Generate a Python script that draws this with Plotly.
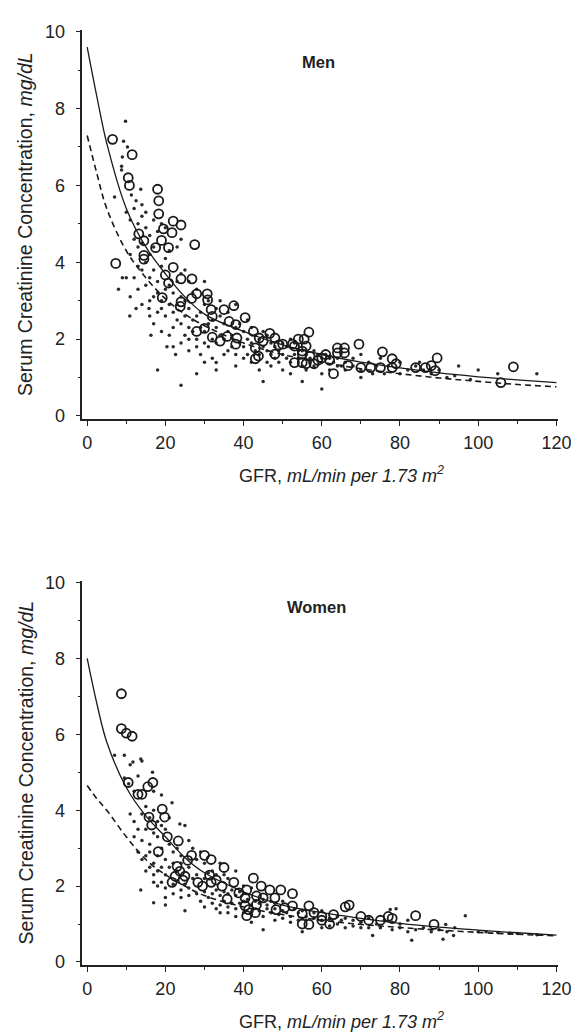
import plotly.graph_objects as go

# ---- fitted curves ----
curve_gfr = [0, 2.5, 5, 10, 15, 20, 25, 30, 40, 50, 60, 70, 80, 90, 100, 110, 120]
men_solid = [9.6, 8.3, 7.1, 5.4, 4.4, 3.7, 3.1, 2.65, 2.2, 1.85, 1.6, 1.4, 1.25, 1.12, 1.02, 0.94, 0.87]
men_dashed = [7.3, 6.3, 5.4, 4.3, 3.6, 3.05, 2.65, 2.35, 1.9, 1.6, 1.4, 1.23, 1.1, 0.99, 0.9, 0.82, 0.76]
women_solid = [8.0, 6.8, 5.8, 4.6, 3.85, 3.3, 2.75, 2.35, 1.85, 1.5, 1.3, 1.15, 1.02, 0.92, 0.84, 0.77, 0.71]
women_dashed = [4.65, 4.3, 4.0, 3.3, 2.7, 2.3, 2.0, 1.75, 1.45, 1.25, 1.1, 0.99, 0.91, 0.84, 0.78, 0.73, 0.69]

# ---- men: open circles ----
men_circ_gfr = [6.5, 11.5, 10.5, 10.8, 18, 18.3, 18.3, 22, 24, 19.5, 21.7, 13.2, 14.5, 19, 27.5, 17.5,
                20.8, 14.5, 14.5, 7.3, 22, 20, 24, 26.8, 20.8, 28, 30.7, 19.2, 26.7, 30.8, 24, 23.8,
                37.5, 31.7, 35, 32, 40.4, 36.3, 38, 30, 28, 42.5, 46.7, 56.7, 32, 35.8, 38.3, 44, 48,
                54, 55.5, 34, 38, 43, 49, 53, 56, 50, 52.5, 45, 48, 55, 43.8, 55, 43, 55, 58, 56, 53,
                60, 69.5, 75.5, 64, 65.8, 64, 65.8, 78, 89.5, 109, 86.5, 89, 84, 78, 75, 72.5, 70,
                66.7, 63, 105.8, 79, 88, 57, 59, 61, 62]
men_circ_scr = [7.2, 6.8, 6.2, 6.0, 5.9, 5.6, 5.26, 5.07, 4.97, 4.87, 4.77, 4.74, 4.56, 4.57, 4.46, 4.38,
                4.38, 4.18, 4.08, 3.97, 3.87, 3.67, 3.57, 3.57, 3.46, 3.18, 3.18, 3.08, 3.06, 3.02, 2.97, 2.85,
                2.87, 2.77, 2.77, 2.59, 2.56, 2.46, 2.38, 2.28, 2.2, 2.2, 2.15, 2.18, 2.05, 2.07, 2.03, 2.03, 2.03,
                2.0, 2.0, 1.95, 1.87, 1.77, 1.85, 1.82, 1.82, 1.87, 1.87, 1.95, 1.61, 1.61, 1.56, 1.39, 1.49, 1.69, 1.36, 1.36, 1.39,
                1.51, 1.87, 1.67, 1.77, 1.77, 1.64, 1.64, 1.49, 1.51, 1.28, 1.26, 1.18, 1.26, 1.26, 1.26, 1.26, 1.26,
                1.31, 1.1, 0.87, 1.36, 1.31, 1.55, 1.45, 1.6, 1.45]

# ---- men: small dots ----
men_dot_gfr = [9.8, 9.3, 10.3, 9, 8.8, 8.8, 7, 11.3, 13.7, 12.5, 14,
               10, 11, 12, 13, 14, 15, 12, 13, 14, 15, 16, 17, 11, 12, 9, 10, 13, 14, 15, 16, 17, 18, 19, 20,
               8, 11, 13, 15, 16, 17, 18, 19, 20, 21, 23, 24,
               10.9, 12.5, 15.8, 14, 16, 17, 18, 19, 20, 21, 22, 23, 24, 25, 26,
               16.3, 16, 17, 18, 19, 20, 21, 22, 23, 24, 25, 26, 27, 28, 30,
               20.4, 19, 21, 22, 23, 24, 25, 26, 27, 28, 29, 30, 31, 33, 34,
               22.6, 22, 24, 25, 26, 27, 28, 29, 30, 31, 32, 33, 34, 35, 36, 38,
               26, 28, 29, 30, 31, 32, 33, 34, 35, 36, 37, 38, 39, 40, 41, 42,
               30, 32, 33, 35, 36, 37, 38, 39, 40, 41, 42, 43, 44, 45, 46, 47,
               38, 40, 41, 42, 43, 44, 45, 46, 47, 48, 49, 50, 51, 52, 53, 54,
               44, 46, 47, 48, 49, 50, 51, 52, 53, 54, 55, 56, 57, 58, 59, 60,
               45, 50, 52, 55, 56, 57, 58, 60, 61, 62, 63, 64, 65, 66, 68, 70,
               55, 60, 62, 64, 66, 68, 70, 72, 74, 75, 77, 80, 82, 84, 86, 88,
               60, 70, 73, 76, 80, 85, 90, 92, 95, 100, 105, 115, 94, 98,
               18, 24, 28, 33]
men_dot_scr = [7.67, 7.15, 7.0, 6.74, 6.5, 6.4, 5.7, 5.75, 5.9, 5.6, 5.5,
               5.3, 5.1, 5.4, 5.0, 5.2, 5.3, 4.6, 4.4, 4.5, 4.9, 4.7, 5.1, 4.2, 3.6, 3.6, 3.6, 3.9, 3.8, 4.0, 4.2, 4.4, 4.8, 5.0, 4.9,
               3.3, 3.1, 3.3, 3.4, 3.6, 3.8, 3.5, 3.9, 4.1, 4.3, 4.4, 4.6,
               2.6, 2.8, 2.8, 2.9, 3.0, 3.1, 3.2, 3.0, 3.3, 3.4, 3.2, 3.5, 3.7, 3.8, 3.5,
               2.1, 2.6, 2.4, 2.7, 2.8, 2.6, 2.9, 2.7, 2.9, 3.1, 3.0, 2.8, 3.2, 3.3, 3.5,
               1.8, 2.2, 2.1, 2.3, 2.5, 2.4, 2.6, 2.3, 2.5, 2.6, 2.7, 2.9, 3.0, 2.8, 3.0,
               1.6, 1.8, 1.9, 2.1, 2.0, 2.2, 2.0, 2.3, 2.2, 2.4, 2.5, 2.3, 2.6, 2.4, 2.7, 2.9,
               1.7, 1.8, 1.6, 1.9, 1.8, 2.0, 1.9, 2.1, 2.0, 2.2, 2.1, 2.3, 2.4, 2.2, 2.5, 2.3,
               1.4, 1.5, 1.2, 1.6, 1.7, 1.8, 1.6, 1.9, 1.8, 2.0, 1.9, 2.1, 2.0, 2.2, 2.1, 1.9,
               1.3, 1.5, 1.6, 1.4, 1.7, 1.6, 1.8, 1.7, 1.6, 1.8, 1.7, 1.9, 1.8, 2.0, 1.9, 1.7,
               1.2, 1.4, 1.3, 1.5, 1.4, 1.6, 1.5, 1.4, 1.6, 1.5, 1.7, 1.6, 1.5, 1.7, 1.6, 1.5,
               0.9, 1.2, 1.1, 1.3, 1.2, 1.4, 1.3, 1.4, 1.6, 1.5, 1.4, 1.5, 1.3, 1.4, 1.5, 1.6,
               0.9, 1.1, 1.2, 1.3, 1.2, 1.3, 1.2, 1.4, 1.3, 1.5, 1.3, 1.4, 1.2, 1.3, 1.2, 1.1,
               0.7, 1.0, 1.1, 1.1, 1.1, 1.4, 1.2, 1.0, 1.3, 1.2, 1.1, 1.1, 1.05, 0.95,
               1.2, 0.8, 1.1, 1.39]

# ---- women: open circles ----
women_circ_gfr = [8.75, 8.75, 10, 11.5, 10.5, 15.5, 16.8, 13, 14, 19.2, 19.8, 15.8, 16.5, 20.5, 23.3,
                  18.2, 26.7, 30, 31.7, 25.7, 35, 23, 23.7, 22.5, 25, 31.3, 42.5, 33, 21.7, 24.5, 28.3,
                  29.5, 31.7, 34.5, 37.5, 44.5, 49.5, 46.7, 52.5, 40.8, 38.8, 35.8, 40.4, 43.3, 45, 48,
                  40.4, 41.3, 43.3, 48.3, 50.5, 52.5, 40.8, 43, 55, 56.7, 56.7,
                  67, 66, 60, 63, 70, 72, 75, 77, 78, 84, 88.7, 60, 62, 55, 58]
women_circ_scr = [7.07, 6.15, 6.03, 5.95, 4.73, 4.62, 4.73, 4.42, 4.42, 4.03, 3.82, 3.82, 3.61, 3.3, 3.19,
                  2.91, 2.81, 2.81, 2.7, 2.68, 2.49, 2.52, 2.39, 2.26, 2.26, 2.29, 2.21, 2.16, 2.1, 2.16, 2.1,
                  2.0, 2.1, 2.0, 2.1, 2.0, 1.9, 1.9, 1.8, 1.9, 1.82, 1.66, 1.69, 1.74, 1.69, 1.69,
                  1.48, 1.38, 1.51, 1.38, 1.43, 1.48, 1.22, 1.3, 1.27, 1.48, 0.99,
                  1.5, 1.45, 1.2, 1.25, 1.2, 1.1, 1.1, 1.2, 1.15, 1.22, 0.99, 1.1, 1.0, 1.0, 1.3]

# ---- women: small dots ----
women_dot_gfr = [7, 9.5, 11.7, 13.7, 11, 14, 16.7, 9.5, 10.6, 12, 13, 17, 19, 21.7,
                 11, 12, 13, 14, 15, 16, 17, 18, 12, 14, 15, 16, 17, 18, 19, 20, 21, 23.7, 25,
                 13, 14, 15, 16, 17, 18, 19, 20, 21, 22, 23, 24, 26, 27, 29,
                 15, 16, 17, 18, 19, 20, 21, 22, 23, 24, 26, 28, 30, 32, 34,
                 13.7, 17, 18, 19, 20, 22, 24, 25, 26, 27, 28, 30, 31, 33, 35, 36, 38,
                 17, 20, 20, 22, 24, 26, 28, 29, 30, 31, 32, 33, 34, 35, 36, 37, 38, 39, 40, 42,
                 25, 30, 32, 33, 34, 35, 36, 37, 38, 39, 40, 41, 42, 43, 44, 45, 46, 47, 48, 50,
                 34, 36, 38, 40, 42, 44, 45, 46, 47, 48, 49, 50, 51, 52, 53, 54, 55, 56, 58, 60,
                 42, 48, 50, 52, 54, 56, 58, 60, 62, 64, 65, 66, 68, 70, 72, 74, 76, 78, 80, 82,
                 45, 55, 60, 62, 64, 66, 68, 70, 73, 72, 75, 78, 80, 82, 84, 86, 88, 90, 92, 94,
                 96.7, 77.5, 79, 83, 91, 93.7, 91.7, 100, 105, 110, 115, 102, 108]
women_dot_scr = [5.45, 5.45, 5.27, 5.35, 5.2, 5.3, 5.0, 4.85, 4.7, 4.5, 4.9, 4.5, 4.4, 4.2,
                 3.9, 3.7, 3.5, 3.9, 4.1, 3.8, 4.0, 3.7, 3.3, 3.2, 3.5, 3.1, 3.4, 3.3, 3.6, 3.5, 3.8, 3.64, 3.6,
                 2.9, 2.7, 2.8, 2.9, 2.6, 2.8, 3.0, 2.7, 3.1, 2.9, 3.0, 2.8, 3.2, 3.0, 2.9,
                 2.4, 2.5, 2.3, 2.4, 2.5, 2.3, 2.5, 2.6, 2.4, 2.6, 2.5, 2.7, 2.6, 2.4, 2.6,
                 1.9, 2.1, 2.0, 2.1, 1.95, 2.05, 1.9, 2.05, 1.95, 2.2, 2.3, 2.2, 2.35, 2.3, 2.3, 2.2, 2.4,
                 1.56, 1.5, 1.7, 1.8, 1.7, 1.75, 1.8, 1.6, 1.85, 1.7, 1.8, 1.9, 1.75, 1.85, 1.8, 1.9, 1.75, 1.85, 2.0, 1.95,
                 1.35, 1.45, 1.55, 1.4, 1.5, 1.6, 1.45, 1.55, 1.4, 1.55, 1.6, 1.65, 1.5, 1.6, 1.55, 1.65, 1.5, 1.6, 1.55, 1.6,
                 1.3, 1.3, 1.2, 1.3, 1.25, 1.35, 1.2, 1.4, 1.3, 1.4, 1.25, 1.35, 1.3, 1.2, 1.4, 1.3, 1.35, 1.2, 1.3, 1.35,
                 1.05, 1.1, 1.15, 1.05, 1.1, 1.1, 1.15, 1.1, 1.15, 1.2, 1.1, 1.15, 1.1, 1.05, 1.15, 1.0, 1.1, 1.05, 1.0, 1.1,
                 0.85, 0.8, 0.9, 0.95, 1.0, 0.9, 0.95, 0.9, 0.7, 0.9, 0.9, 0.85, 0.9, 0.8, 0.85, 0.9, 0.8, 0.85, 0.8, 0.9,
                 1.22, 1.38, 1.4, 0.57, 0.6, 0.7, 0.99, 0.8, 0.78, 0.75, 0.72, 0.8, 0.76]

FONT = "Liberation Sans, Arial, sans-serif"
INK = "#222222"
W, H = 579, 1033

fig = go.Figure()

panels = [
    ("x", "y", men_dot_gfr, men_dot_scr, men_circ_gfr, men_circ_scr, men_solid, men_dashed),
    ("x2", "y2", women_dot_gfr, women_dot_scr, women_circ_gfr, women_circ_scr, women_solid, women_dashed),
]
for xa, ya, dx, dy, cx, cy, solid, dashed in panels:
    fig.add_trace(go.Scatter(x=dx, y=dy, mode="markers", xaxis=xa, yaxis=ya, showlegend=False,
                             marker=dict(size=3.5, color="#2a2a2a")))
    fig.add_trace(go.Scatter(x=cx, y=cy, mode="markers", xaxis=xa, yaxis=ya, showlegend=False,
                             marker=dict(symbol="circle-open", size=9, color="#1a1a1a", line=dict(width=1.8))))
    fig.add_trace(go.Scatter(x=curve_gfr, y=solid, mode="lines", xaxis=xa, yaxis=ya, showlegend=False,
                             line=dict(color="#1a1a1a", width=1.3, shape="spline")))
    fig.add_trace(go.Scatter(x=curve_gfr, y=dashed, mode="lines", xaxis=xa, yaxis=ya, showlegend=False,
                             line=dict(color="#1a1a1a", width=1.6, dash="6px,4px", shape="spline")))

# pixel geometry of the two plot areas
x_dom = [76 / W, 563 / W]
top_dom = [1 - 409 / H, 1 - 14 / H]
bot_dom = [1 - 963 / H, 1 - 573 / H]

xcommon = dict(range=[-1.25, 120.5], tickvals=[0, 20, 40, 60, 80, 100, 120], ticks="outside", ticklen=5,
               tickwidth=1.2, tickcolor=INK, showline=True, linecolor=INK, linewidth=1.5, showgrid=False,
               zeroline=False, tickfont=dict(size=18, color=INK, family=FONT), ticklabelstandoff=2,
               minor=dict(dtick=10, tick0=0, ticks="outside", ticklen=3, tickcolor=INK))
ycommon = dict(range=[-0.08, 10.05], tickvals=[0, 2, 4, 6, 8, 10], ticks="outside", ticklen=5,
               tickwidth=1.2, tickcolor=INK, showline=True, linecolor=INK, linewidth=1.5, showgrid=False,
               zeroline=False, tickfont=dict(size=18, color=INK, family=FONT), ticklabelstandoff=7,
               minor=dict(dtick=1, tick0=0, ticks="outside", ticklen=3, tickcolor=INK))

fig.update_layout(
    width=W, height=H, margin=dict(l=0, r=0, t=0, b=0),
    paper_bgcolor="white", plot_bgcolor="white",
    xaxis=dict(domain=x_dom, anchor="y", **xcommon),
    yaxis=dict(domain=top_dom, anchor="x", **ycommon),
    xaxis2=dict(domain=x_dom, anchor="y2", **xcommon),
    yaxis2=dict(domain=bot_dom, anchor="x2", **ycommon),
)

ytitle = "Serum Creatinine Concentration, <i>mg/dL</i>"
xtitle = "GFR, <i>mL/min per 1.73 m<sup>2</sup></i>"
for dom in [top_dom, bot_dom]:
    fig.add_annotation(x=18 / W, y=(dom[0] + dom[1]) / 2, xref="paper", yref="paper", text=ytitle,
                       textangle=-90, xanchor="center", yanchor="middle", showarrow=False,
                       font=dict(size=19.5, color=INK, family=FONT))
    fig.add_annotation(x=0.59, y=dom[0] - 56 / H, xref="paper", yref="paper", text=xtitle,
                       xanchor="center", yanchor="middle", showarrow=False,
                       font=dict(size=18, color=INK, family=FONT))

fig.add_annotation(x=54.5, y=9.2, xref="x", yref="y", text="<b>Men</b>", xanchor="left",
                   yanchor="middle", showarrow=False, font=dict(size=16.5, color=INK, family=FONT))
fig.add_annotation(x=50.5, y=9.35, xref="x2", yref="y2", text="<b>Women</b>", xanchor="left",
                   yanchor="middle", showarrow=False, font=dict(size=16.5, color=INK, family=FONT))

fig.write_html("out.html")
